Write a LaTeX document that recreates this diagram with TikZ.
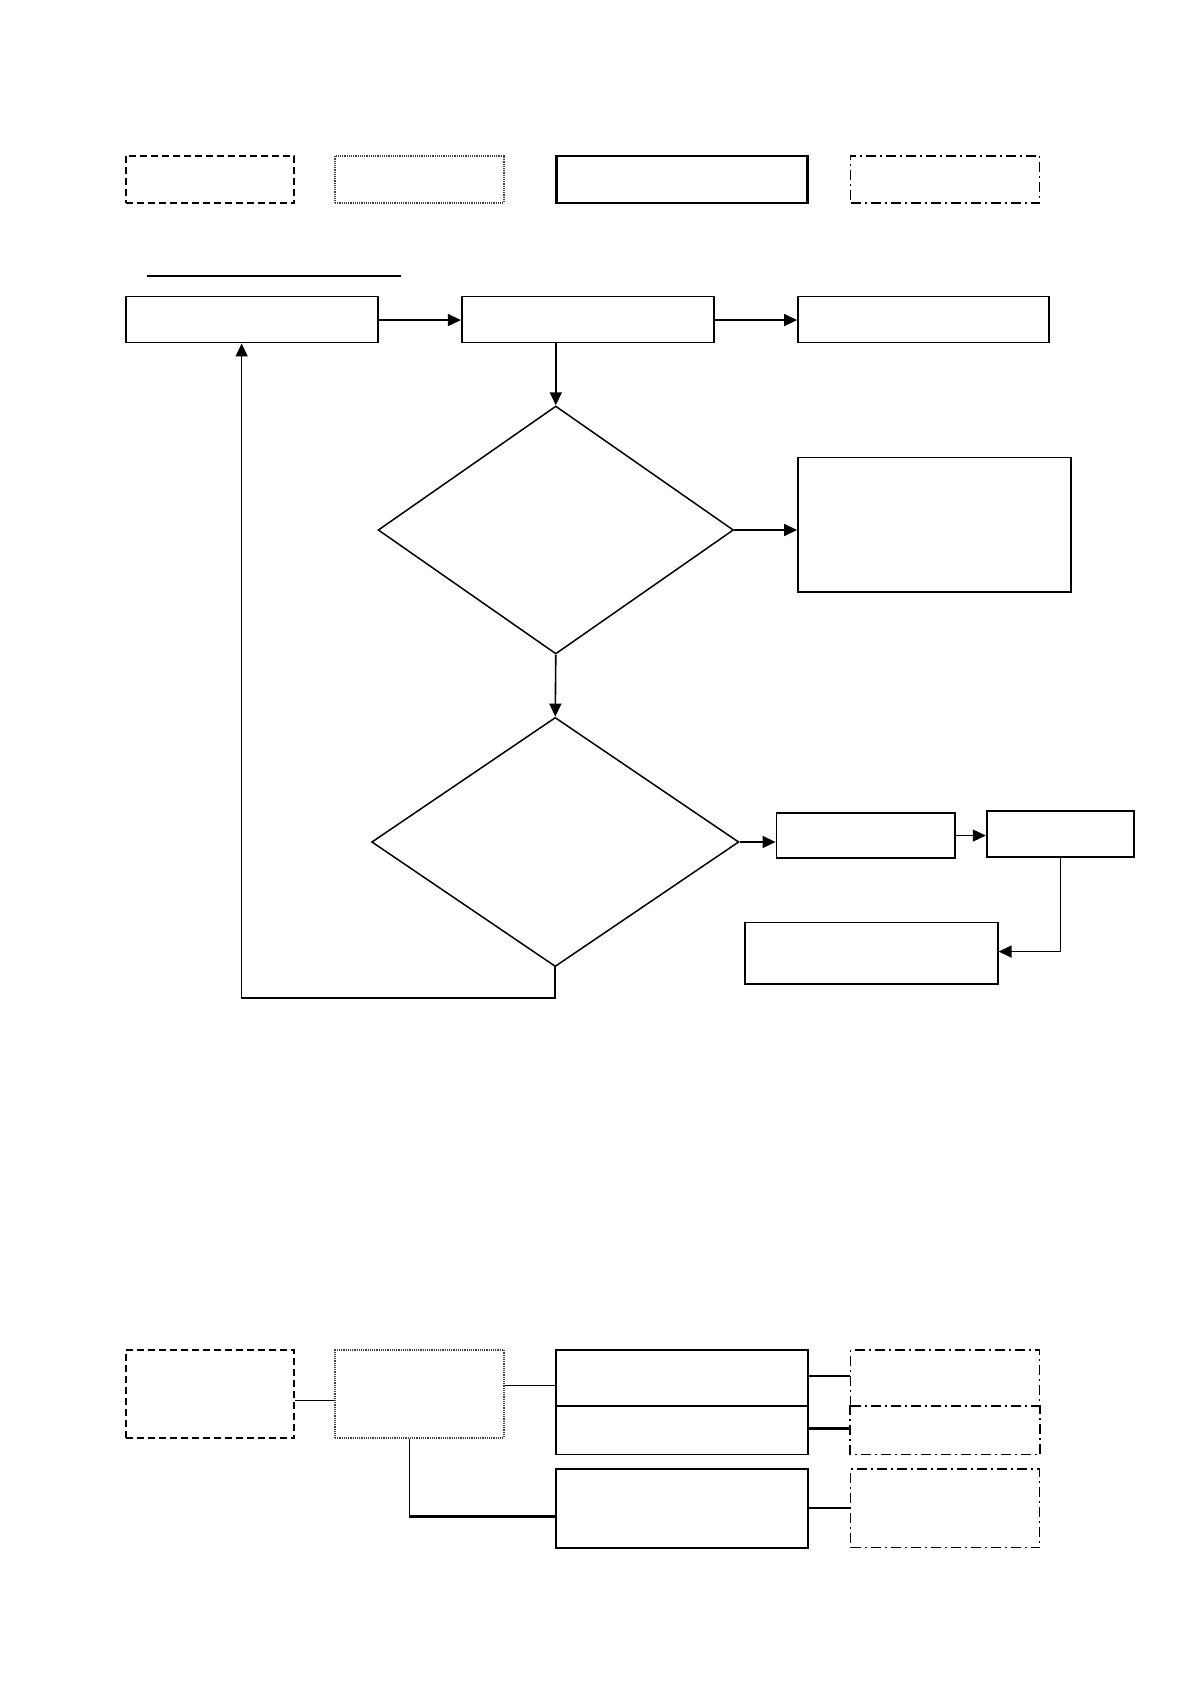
\documentclass[tikz,border=0pt]{standalone}
\usetikzlibrary{arrows.meta,shapes.geometric,fit}
\begin{document}
\begin{tikzpicture}[x=0.537pt,y=-0.537pt,
  box/.style={draw, inner sep=0pt, line width=0.9pt},
  thickbox/.style={draw, inner sep=0pt, line width=1.2pt},
  dashbox/.style={draw, inner sep=0pt, line width=1pt, dash pattern=on 3.5pt off 2pt},
  dotbox/.style={draw=black!75, inner sep=0pt, line width=0.9pt, dash pattern=on 0.6pt off 0.5pt},
  ddpat/.style={line width=0.8pt, dash pattern=on 5pt off 2pt on 1pt off 2pt},
  dashdotbox/.style={draw, inner sep=0pt, ddpat},
  dia/.style={draw, diamond, inner sep=0pt, line width=0.75pt},
  arr/.style={-{Triangle[length=6.5pt,width=6pt]}, line width=0.8pt},
  conn/.style={line width=0.75pt}]
\useasboundingbox (0,0) rectangle (1108,1568);

% top legend row
\node[dashbox, fit={(117,145) (274,189)}] (b1) {};
\node[dotbox, fit={(312,145) (469,189)}] (b2) {};
\node[thickbox, fit={(518,145) (752,189)}] (b3) {};
\node[dashdotbox, fit={(792,145) (968,189)}] (b4) {};

% underline
\coordinate (u1) at (137,257);
\coordinate (u2) at (373,257);
\draw[conn] (u1) -- (u2);

% flow boxes
\node[box, fit={(117,276) (352,319)}] (f1) {};
\node[box, fit={(430,276) (665,319)}] (f2) {};
\node[box, fit={(743,276) (977,319)}] (f3) {};
\node[dia, minimum width=177.7pt, minimum height=124pt] (d1) at (517.5,493.5) {};
\node[box, fit={(743,426) (997,551)}] (r1) {};
\node[dia, minimum width=183.6pt, minimum height=124.6pt] (d2) at (517,784) {};
\node[box, fit={(723,757) (889,799)}] (s1) {};
\node[thickbox, fit={(919,755) (1056,798)}] (s2) {};
\node[box, fit={(694,859) (929,916)}] (s3) {};

\coordinate (ya) at (0,298);
\draw[arr] (f1.east |- ya) -- (f2.west |- ya);
\draw[arr] (f2.east |- ya) -- (f3.west |- ya);
\draw[arr] (d1.north |- f2.south) -- (d1.north);
\draw[arr] (d1.east) -- (d1.east -| r1.west);
\draw[arr] (d1.south) -- (d2.north);
\draw[arr] (d2.east) -- (d2.east -| s1.west);
\draw[arr] (s1.east) -- (s1.east -| s2.west);
\coordinate (ys3) at (0,886);
\draw[arr] (s2.south) |- (s3.east |- ys3);
\coordinate (lb) at (225,929);
\draw[arr] (d2.south) |- (lb) -- (lb |- f1.south);

% bottom structure
\node[dashbox, fit={(117,1257) (274,1339)}] (c1) {};
\node[dotbox, fit={(312,1257) (469,1339)}] (c2) {};
\node[box, fit={(518,1257) (752,1309)}] (c3a) {};
\node[inner sep=0pt, fit={(518,1309) (752,1354)}] (c3b) {};
\draw[line width=0.9pt] (c3b.north west) -- (c3b.south west) -- (c3b.south east) -- (c3b.north east);
\node[box, fit={(518,1368) (752,1441)}] (c4) {};
\node[dashdotbox, fit={(792,1257) (968,1309)}] (e1) {};
\node[inner sep=0pt, fit={(792,1309) (968,1354)}] (e2) {};
\draw[ddpat] (e2.north west) -- (e2.south west) -- (e2.south east) -- (e2.north east);
\node[dashdotbox, fit={(792,1368) (968,1441)}] (e3) {};

\coordinate (h1) at (0,1304);
\coordinate (h2) at (0,1290);
\coordinate (h3) at (381,1412);
\coordinate (h4) at (0,1281);
\coordinate (h5) at (0,1330);
\coordinate (h6) at (0,1404);
\draw[conn] (c1.east |- h1) -- (c2.west |- h1);
\draw[conn] (c2.east |- h2) -- (c3a.west |- h2);
\draw[line width=0.5pt] (h3 |- c2.south) -- (h3);
\draw[line width=1.3pt] (h3) -- (c4.west |- h3);
\draw[conn] (c3a.east |- h4) -- (e1.west |- h4);
\draw[line width=1.3pt] (c3b.east |- h5) -- (e2.west |- h5);
\draw[conn] (c4.east |- h6) -- (e3.west |- h6);
\end{tikzpicture}
\end{document}
